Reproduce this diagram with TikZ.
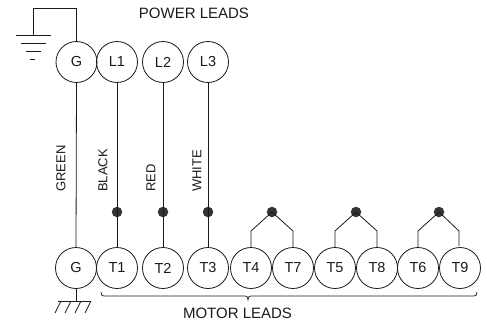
\documentclass[tikz,border=0pt]{standalone}
\usepackage{fontspec}
\setmainfont{Liberation Sans}
\definecolor{ink}{HTML}{1A1A1A}
\definecolor{dotc}{HTML}{333333}
\tikzset{
  term/.style={circle,draw=ink,line width=0.8pt,minimum size=41pt,inner sep=0pt,text=ink,font=\fontsize{14.5}{16}\selectfont},
  wire/.style={draw=ink,line width=0.8pt},
  splice/.style={circle,fill=dotc,draw=none,minimum size=10.5pt,inner sep=0pt},
  lbl/.style={font=\fontsize{15}{17}\selectfont,text=ink,inner sep=0pt},
  vlbl/.style={font=\fontsize{13}{15}\selectfont,text=ink,inner sep=0pt,rotate=90,anchor=west},
}
\begin{document}
\begin{tikzpicture}[x=1pt,y=-1pt]
\useasboundingbox (0,0) rectangle (487,324);
% power terminals
\node[term] (G1) at (76.5,62) {G};
\node[term] (L1) at (117,62) {L1};
\node[term] (L2) at (163,62) {L2};
\node[term] (L3) at (208,62) {L3};
% motor terminals
\node[term] (G2) at (76,268) {G};
\node[term] (T1) at (117,268) {T1};
\node[term] (T2) at (163,268) {T2};
\node[term] (T3) at (208,268) {T3};
\node[term] (T4) at (251,268) {T4};
\node[term] (T7) at (293,268) {T7};
\node[term] (T5) at (335,268) {T5};
\node[term] (T8) at (377,268) {T8};
\node[term] (T6) at (418,268) {T6};
\node[term] (T9) at (460,268) {T9};
% splices
\node[splice] (S1) at (117,212) {};
\node[splice] (S2) at (163,212) {};
\node[splice] (S3) at (208,212) {};
\node[splice] (S4) at (272,212) {};
\node[splice] (S5) at (356,212) {};
\node[splice] (S6) at (439,212) {};
% straight leads
\draw[wire] (G1.south) -- (G2.north);
\draw[wire] (L1.south) -- (T1.north);
\draw[wire] (L2.south) -- (T2.north);
\draw[wire] (L3.south) -- (T3.north);
% jumpers
\draw[wire] (T4.north) -- (251,231) -- (S4.center) -- (293,231) -- (T7.north);
\draw[wire] (T5.north) -- (335,231) -- (S5.center) -- (377,231) -- (T8.north);
\draw[wire] (T6.north) -- (418,231) -- (S6.center) -- (459,231) -- (459,246);
% earth symbol, top
\coordinate (E1) at (33.5,35);
\draw[wire] (G1.north) -- (76.5,8) -- (33.5,8) -- (E1);
\draw[wire] (16,35) -- (51,35);
\draw[wire] (21,43) -- (46,43);
\draw[wire] (26,51) -- (41,51);
\draw[wire] (30,59) -- (35,59);
% chassis ground
\coordinate (E2) at (76,301);
\draw[wire] (G2.south) -- (E2);
\draw[wire] (58,301) -- (91,301);
\foreach \x in {61,71,81,91} \draw[wire] (\x,301) -- (\x-6,313);
% brace
\coordinate (BL) at (101,292);
\coordinate (BR) at (477,292);
\draw[wire,line width=0.7pt] (BL) .. controls (101,295) and (102,296) .. (104,296) -- (245,296) .. controls (247,296) and (248,297) .. (248,300) .. controls (248,297) and (249,296) .. (251,296) -- (474,296) .. controls (476,296) and (477,295) .. (BR);
% labels
\node[lbl] (PL) at (194,13) {POWER LEADS};
\node[lbl] (ML) at (237.5,313) {MOTOR LEADS};
\node[vlbl] (c1) at (61,192) {GREEN};
\node[vlbl] (c2) at (103,192) {BLACK};
\node[vlbl] (c3) at (151,192) {RED};
\node[vlbl] (c4) at (197,192) {WHITE};
\end{tikzpicture}
\end{document}
